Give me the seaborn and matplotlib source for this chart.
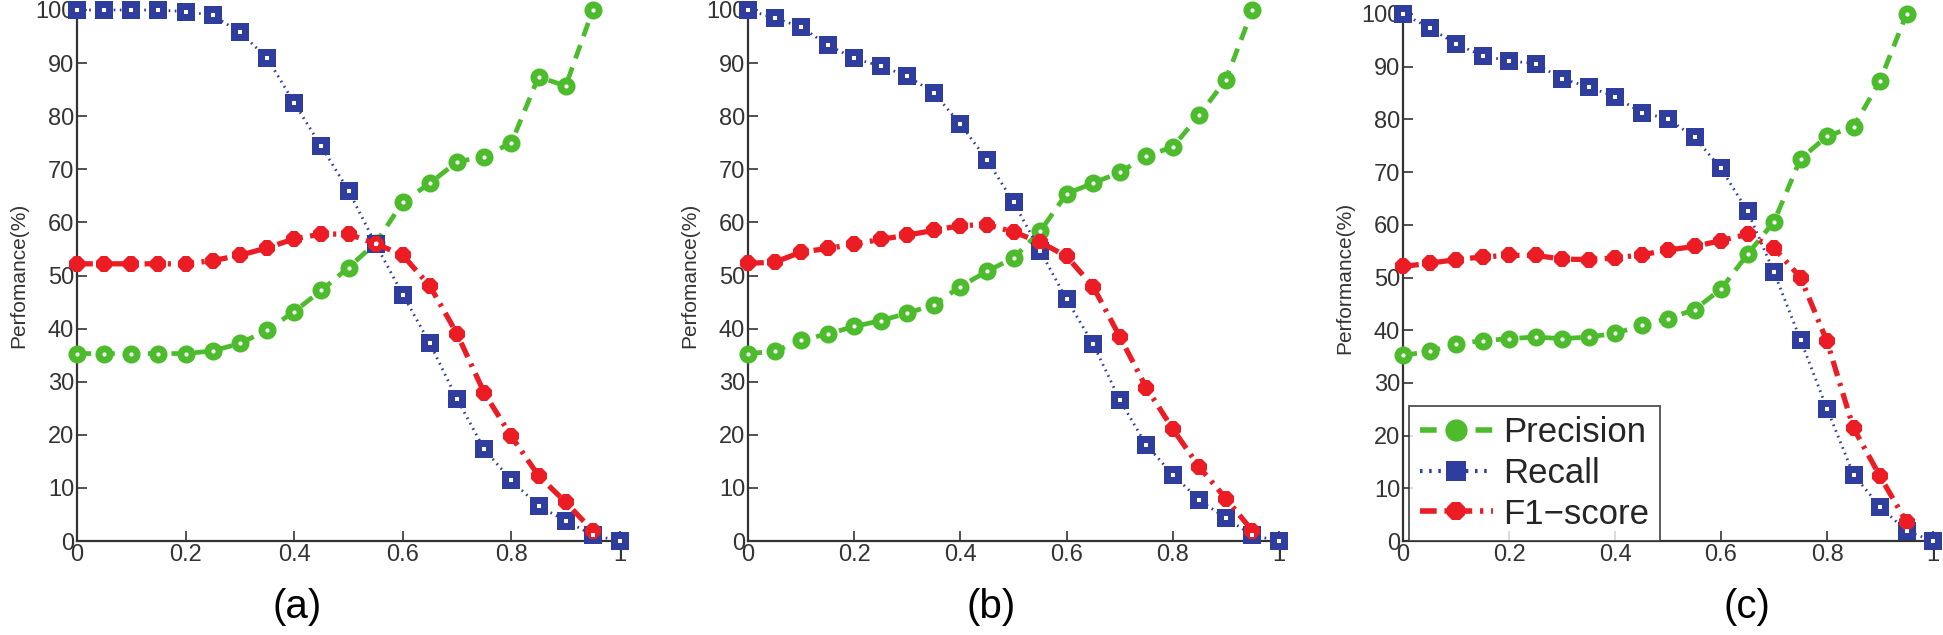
import numpy as np
import pandas as pd
import matplotlib
matplotlib.use("Agg")
import matplotlib.pyplot as plt
import seaborn as sns
from matplotlib.lines import Line2D

# ─── Data ────────────────────────────────────────────────────────────────────
thresholds = [0.0, 0.05, 0.1, 0.15, 0.2, 0.25, 0.3, 0.35, 0.4, 0.45, 0.5,
              0.55, 0.6, 0.65, 0.7, 0.75, 0.8, 0.85, 0.9, 0.95, 1.0]

# panel (a)
recall_a = [100, 100, 100, 100, 99.7, 99.0, 95.8, 91.0, 82.5, 74.3, 66.0,
            55.9, 46.4, 37.2, 26.7, 17.3, 11.4, 6.6, 3.8, 1.1, 0.0]
precision_a = [35.3, 35.3, 35.3, 35.3, 35.3, 35.8, 37.2, 39.7, 43.2, 47.2, 51.5,
               56.1, 63.8, 67.4, 71.4, 72.4, 75.0, 87.4, 85.7, 100.0]
f1_a = [52.2, 52.2, 52.2, 52.2, 52.2, 52.8, 53.8, 55.2, 56.9, 57.8, 57.8,
        56.0, 53.8, 48.0, 39.0, 27.9, 19.7, 12.3, 7.3, 1.9]

# panel (b)
recall_b = [100, 98.5, 96.8, 93.4, 90.9, 89.4, 87.6, 84.4, 78.5, 71.8, 63.8,
            54.7, 45.5, 37.1, 26.6, 18.1, 12.5, 7.7, 4.3, 1.1, 0.0]
precision_b = [35.3, 35.7, 37.8, 39.0, 40.4, 41.5, 42.9, 44.5, 47.9, 50.8, 53.3,
               58.3, 65.4, 67.4, 69.4, 72.5, 74.2, 80.2, 86.9, 100.0]
f1_b = [52.3, 52.5, 54.4, 55.1, 55.9, 56.8, 57.6, 58.5, 59.4, 59.6, 58.2,
        56.3, 53.6, 47.9, 38.5, 28.9, 21.1, 13.9, 8.0, 1.9]

# panel (c)
recall_c = [100, 97.4, 94.3, 92.1, 91.1, 90.6, 87.7, 86.2, 84.3, 81.3, 80.1,
            76.6, 70.7, 62.6, 51.0, 38.2, 25.1, 12.6, 6.5, 1.9, 0.0]
precision_c = [35.2, 36.0, 37.4, 38.0, 38.4, 38.7, 38.4, 38.7, 39.4, 40.9, 42.2,
               43.9, 47.8, 54.4, 60.6, 72.5, 76.8, 78.6, 87.3, 100.0]
f1_c = [52.1, 52.7, 53.4, 53.9, 54.2, 54.2, 53.5, 53.4, 53.7, 54.3, 55.2,
        55.9, 57.0, 58.2, 55.6, 50.0, 37.9, 21.4, 12.3, 3.6]

panel_labels = ["(a)", "(b)", "(c)"]
ylabels = ["Perfomance(%)", "Perfomance(%)", "Performance(%)"]
series_names = ["Precision", "Recall", "F1\u2212score"]

GREEN = "#4cbb2c"
BLUE = "#2f3d9e"
RED = "#ec1c24"

LS_PREC = (0, (3, 2.0))
LS_REC = (0, (0.6, 1.6))
LS_F1 = (0, (3, 1.4, 0.6, 1.4))

# ─── Style ───────────────────────────────────────────────────────────────────
sns.set_theme(style="ticks")
plt.rcParams["font.family"] = ["Liberation Sans", "DejaVu Sans"]
plt.rcParams["xtick.direction"] = "in"
plt.rcParams["ytick.direction"] = "in"

fig = plt.figure(figsize=(19.43, 6.35), dpi=100)

W, H = 1943, 635
# axes boxes in pixels: left, right, top, bottom
boxes = [(77, 620, 10, 541), (748, 1279, 10, 541), (1403, 1933, 14, 541)]
sub_x = [297, 991, 1747]

panels = [
    (precision_a, recall_a, f1_a),
    (precision_b, recall_b, f1_b),
    (precision_c, recall_c, f1_c),
]

for i, (prec, rec, f1) in enumerate(panels):
    l, r, t, b = boxes[i]
    ax = fig.add_axes([l / W, 1 - b / H, (r - l) / W, (b - t) / H])

    x_full = thresholds
    x_part = thresholds[:len(prec)]

    sns.lineplot(x=x_part, y=prec, ax=ax, color=GREEN, linestyle=LS_PREC,
                 lw=3.4, marker="o", markersize=13, markeredgewidth=0,
                 clip_on=False, zorder=3)
    sns.lineplot(x=x_full, y=rec, ax=ax, color=BLUE, linestyle=LS_REC,
                 lw=2.0, marker="s", markersize=12.5, markeredgewidth=0,
                 clip_on=False, zorder=3)
    sns.lineplot(x=x_part, y=f1, ax=ax, color=RED, linestyle=LS_F1,
                 lw=3.8, marker="8", markersize=12, markeredgewidth=0,
                 clip_on=False, zorder=4)
    # small white centre dots of the MATLAB markers
    ax.plot(x_full, rec, ls="none", marker="s", ms=3, mfc="white", mew=0,
            clip_on=False, zorder=5)
    ax.plot(x_part, prec, ls="none", marker="o", ms=3, mfc="white", mew=0,
            clip_on=False, zorder=5)

    ax.set_xlim(0, 1)
    ax.set_ylim(0, 100)
    ax.set_xticks([0, 0.2, 0.4, 0.6, 0.8, 1.0])
    ax.set_xticklabels(["0", "0.2", "0.4", "0.6", "0.8", "1"])
    ax.set_yticks(range(0, 101, 10))
    ax.tick_params(labelsize=17, length=7, width=1.2, colors="#333333",
                   labelcolor="#333333", pad=2)
    ax.set_ylabel(ylabels[i], fontsize=15, color="#333333", labelpad=5)
    ax.set_xlabel("")
    sns.despine(ax=ax)
    for sp in ["left", "bottom"]:
        ax.spines[sp].set_color("#333333")
        ax.spines[sp].set_linewidth(1.6)

    fig.text(sub_x[i] / W, 1 - 607 / H, panel_labels[i], fontsize=29,
             ha="center", va="center", color="black")

    if i == 2:
        handles = [
            Line2D([], [], color=GREEN, linestyle=LS_PREC, lw=4,
                   marker="o", markersize=16, markeredgewidth=0),
            Line2D([], [], color=BLUE, linestyle=LS_REC, lw=3,
                   marker="s", markersize=15, markeredgewidth=0),
            Line2D([], [], color=RED, linestyle=LS_F1, lw=4,
                   marker="8", markersize=14, markeredgewidth=0),
        ]
        leg = ax.legend(handles, series_names, loc="lower left",
                        bbox_to_anchor=(0.012, 0.0), borderaxespad=0,
                        fontsize=25, frameon=True, fancybox=False,
                        handlelength=2.1, handletextpad=0.3,
                        labelspacing=0.22, borderpad=0.3)
        leg.get_frame().set_edgecolor("#333333")
        leg.get_frame().set_linewidth(1.4)

fig.savefig("out.png", dpi=100)
